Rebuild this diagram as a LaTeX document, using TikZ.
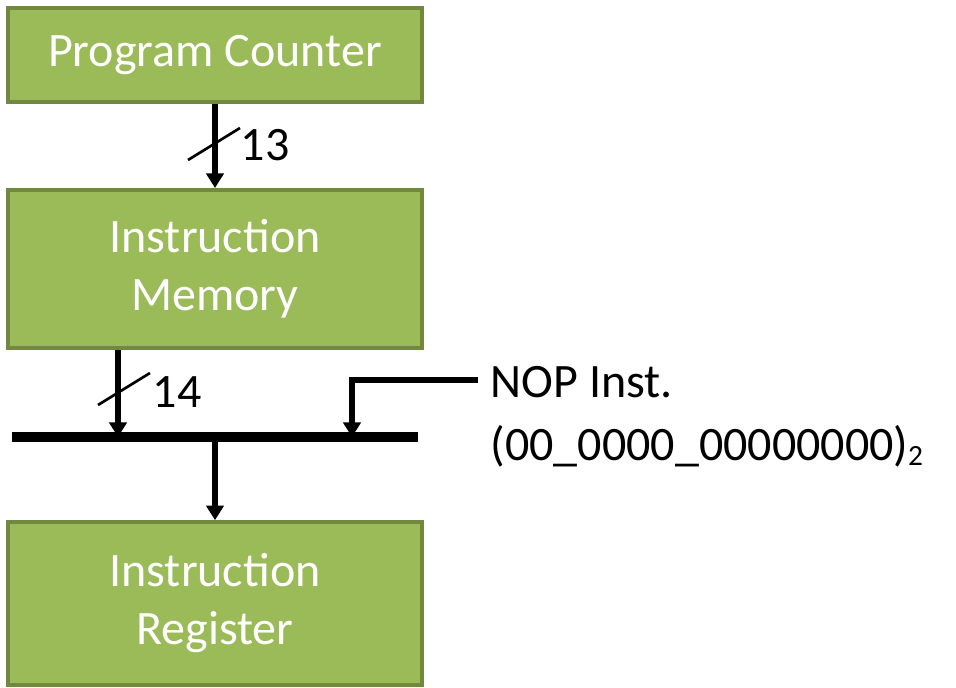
\documentclass[tikz,border=0pt]{standalone}
\usepackage{fontspec}
\setmainfont{Carlito}
\usetikzlibrary{arrows.meta}
\definecolor{boxfill}{HTML}{9BBB59}
\definecolor{boxline}{HTML}{71893F}
\begin{document}
\begin{tikzpicture}[x=0.75pt,y=-0.75pt]
        \useasboundingbox (0,0) rectangle (956,688);
        \begin{scope}[every node/.style={draw=boxline, line width=3pt, fill=boxfill, text=white, minimum width=310.5pt, align=center, font=\fontsize{36}{43.5}\selectfont}]
                \node[minimum height=70.5pt] (PC) at (215,55) {Program Counter};
                \node[minimum height=118.5pt] (IM) at (215,269) {Instruction\\Memory};
                \node[minimum height=122pt] (IR) at (215,603.5) {Instruction\\Register};
        \end{scope}
        \coordinate (BL) at (12,437);
        \coordinate (BR) at (418,437);
        \coordinate (B1) at (118,437);
        \coordinate (B2) at (352,437);
        \coordinate (B3) at (215,437);
        \coordinate (N) at (478,380);
        \draw[line width=8pt] (BL) -- (BR);
        \begin{scope}[every path/.style={line width=5pt, -{Triangle[length=11pt,width=13pt]}}]
                \draw (PC.south) -- (IM.north);
                \draw (B1 |- IM.south) -- (B1);
                \draw (N) -| (B2);
                \draw (B3) -- (IR.north);
        \end{scope}
        \begin{scope}[every node/.style={font=\fontsize{36}{43}\selectfont, anchor=west}]
                \draw[line width=2pt] (188,160) -- (240,128);
                \draw[line width=2pt] (98,405) -- (150,373);
                \node (w13) at (236,145) {13};
                \node (w14) at (148,392) {14};
                \node (nop) at (486,382) {NOP Inst.};
                \node (val) at (486,446) {(00\_0000\_00000000)\raisebox{-4pt}{\fontsize{22}{26}\selectfont 2}};
        \end{scope}
\end{tikzpicture}
\end{document}
